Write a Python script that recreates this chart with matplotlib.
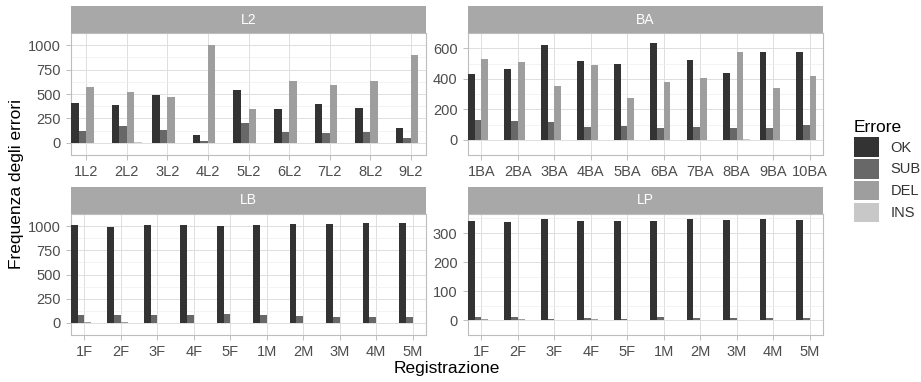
import matplotlib
matplotlib.use('Agg')
import matplotlib.pyplot as plt
import numpy as np
from matplotlib.patches import Patch

plt.rcParams['font.family'] = ['Liberation Sans', 'DejaVu Sans']

errori = ['OK', 'SUB', 'DEL', 'INS']
colori = ['#333333', '#686868', '#9e9e9e', '#c8c8c8']

l2_labels = ['1L2', '2L2', '3L2', '4L2', '5L2', '6L2', '7L2', '8L2', '9L2']
l2_ok = [405, 385, 490, 80, 545, 345, 400, 355, 150]
l2_sub = [120, 170, 135, 15, 200, 110, 105, 110, 45]
l2_del = [570, 525, 470, 1000, 345, 635, 590, 630, 895]
l2_ins = [0, 8, 0, 0, 0, 0, 0, 0, 0]

ba_labels = ['1BA', '2BA', '3BA', '4BA', '5BA', '6BA', '7BA', '8BA', '9BA', '10BA']
ba_ok = [430, 465, 622, 518, 495, 632, 520, 435, 575, 573]
ba_sub = [130, 120, 115, 85, 90, 80, 85, 80, 80, 100]
ba_del = [532, 508, 355, 488, 273, 380, 405, 578, 342, 420]
ba_ins = [0, 0, 0, 0, 0, 0, 0, 5, 0, 0]

reg_labels = ['1F', '2F', '3F', '4F', '5F', '1M', '2M', '3M', '4M', '5M']
lb_ok = [1010, 995, 1010, 1015, 1000, 1015, 1020, 1025, 1035, 1030]
lb_sub = [80, 85, 80, 80, 90, 80, 70, 65, 60, 65]
lb_del = [5, 5, 3, 4, 3, 4, 2, 3, 2, 2]
lb_ins = [0, 0, 0, 0, 0, 0, 0, 0, 0, 0]

lp_ok = [340, 337, 348, 343, 343, 343, 347, 345, 347, 346]
lp_sub = [12, 12, 6, 7, 6, 12, 7, 9, 7, 8]
lp_del = [4, 5, 2, 4, 3, 3, 1, 1, 2, 2]
lp_ins = [0, 0, 0, 0, 0, 0, 0, 0, 0, 0]

W, H = 921, 382
fig = plt.figure(figsize=(W / 100, H / 100), dpi=100)


def px_axes(x0, y0, x1, y1):
    return fig.add_axes([x0 / W, 1 - y1 / H, (x1 - x0) / W, (y1 - y0) / H])


def panel(box, strip_top, title, labels, series, yticks):
    x0, y0, x1, y1 = box
    ax = px_axes(x0, y0, x1, y1)
    sax = px_axes(x0, strip_top, x1, y0)
    sax.set_facecolor('#a8a8a8')
    sax.set_xticks([])
    sax.set_yticks([])
    for s in sax.spines.values():
        s.set_visible(False)
    sax.text(0.5, 0.5, title, color='white', fontsize=10,
             ha='center', va='center', transform=sax.transAxes)

    n = len(labels)
    x = np.arange(1, n + 1)
    tot = 0.74
    bw = tot / len(series)
    for i, (vals, col) in enumerate(zip(series, colori)):
        ax.bar(x - tot / 2 + bw * (i + 0.5), vals, width=bw, color=col,
               zorder=3, linewidth=0)
    ymax = max(max(v) for v in series)
    ax.set_ylim(-0.05 * ymax, 1.05 * ymax)
    ax.set_xlim(1 - tot / 2, n + tot / 2)
    ax.set_xticks(x)
    ax.set_xticklabels(labels)
    ax.set_yticks(yticks)
    ax.set_yticklabels([str(t) for t in yticks])
    step = yticks[1] - yticks[0]
    ax.set_yticks([t + step / 2 for t in [yticks[0] - step] + yticks], minor=True)
    ax.grid(True, which='major', color='#dedede', linewidth=0.7, zorder=0)
    ax.grid(True, which='minor', axis='y', color='#efefef', linewidth=0.5, zorder=0)
    ax.tick_params(which='major', length=3.5, color='#bdbdbd', width=0.7,
                   labelsize=10.5, labelcolor='#4d4d4d', pad=4)
    ax.tick_params(which='minor', length=0)
    for s in ax.spines.values():
        s.set_color('#bdbdbd')
        s.set_linewidth(0.8)
    return ax


panel((71, 33, 426, 155), 6, 'L2', l2_labels,
      [l2_ok, l2_sub, l2_del, l2_ins], [0, 250, 500, 750, 1000])
panel((468, 33, 823, 155), 6, 'BA', ba_labels,
      [ba_ok, ba_sub, ba_del, ba_ins], [0, 200, 400, 600])
panel((71, 214, 426, 335), 187, 'LB', reg_labels,
      [lb_ok, lb_sub, lb_del, lb_ins], [0, 250, 500, 750, 1000])
panel((468, 214, 823, 335), 187, 'LP', reg_labels,
      [lp_ok, lp_sub, lp_del, lp_ins], [0, 100, 200, 300])

fig.text(16 / W, 1 - 184 / H, 'Frequenza degli errori', rotation=90,
         ha='center', va='center', fontsize=12.5)
fig.text(447 / W, 1 - 368 / H, 'Registrazione', ha='center', va='center',
         fontsize=12.5)

handles = [Patch(facecolor=c, edgecolor='none', label=e) for e, c in zip(errori, colori)]
leg = fig.legend(handles=handles, title='Errore', loc='upper left',
                 bbox_to_anchor=(848 / W, 1 - 114 / H), frameon=False,
                 fontsize=10.5, title_fontsize=12.5, handlelength=1.7,
                 handleheight=1.7, labelspacing=0.15, handletextpad=0.8,
                 alignment='left', borderaxespad=0)
for t in leg.get_texts():
    t.set_color('#333333')

fig.savefig('out.png', dpi=100)
